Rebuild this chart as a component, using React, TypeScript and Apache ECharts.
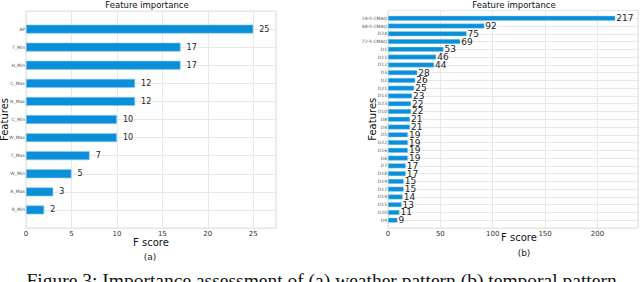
import React, { useEffect, useRef } from "react";
import * as echarts from "echarts";

// (a) weather pattern, listed top to bottom
const weatherFeatures = ["AP", "T_Min", "H_Min", "C_Max", "H_Max", "C_Min", "W_Max", "T_Max", "W_Min", "R_Max", "R_Min"];
const weatherScores = [25, 17, 17, 12, 12, 10, 10, 7, 5, 3, 2];

// (b) temporal pattern, listed top to bottom
const temporalFeatures = [
  "24-h CMAQ", "48-h CMAQ", "D24", "72-h CMAQ", "D1", "D11", "D12", "D3", "D2", "D21",
  "D13", "D23", "D10", "D8", "D4", "D5", "D22", "D16", "D6", "D7",
  "D18", "D19", "D17", "D14", "D15", "D20", "D9",
];
const temporalScores = [
  217, 92, 75, 69, 53, 46, 44, 28, 26, 25,
  23, 22, 22, 21, 21, 19, 19, 19, 19, 17,
  17, 15, 15, 14, 13, 11, 9,
];

const weatherTicks = [0, 5, 10, 15, 20, 25];
const temporalTicks = [0, 50, 100, 150, 200];

const FONT = "DejaVu Sans";
const BAR = "#0b8fd8";
const GRID = "#e8e8e8";

// pad with empty categories so the axis runs from -1 to n like the original
function padCats(names: string[]) {
  return ["", ...names.slice().reverse(), ""];
}
function padVals(vals: number[]) {
  return [null, ...vals.slice().reverse(), null];
}

export default function App() {
  const ref = useRef<HTMLDivElement>(null);
  useEffect(() => {
    if (!ref.current) return;
    const chart = echarts.init(ref.current, undefined, { renderer: "svg" });
    const wMax = Math.max(...weatherScores) * 1.1;
    const tMax = Math.max(...temporalScores) * 1.1;
    const xAxisCommon = (ticks: number[]) => ({
      type: "value" as const,
      min: 0,
      interval: ticks[1] - ticks[0],
      axisLine: { show: false },
      axisTick: { show: false },
      splitLine: { show: true, lineStyle: { color: GRID, width: 1 } },
      axisLabel: {
        fontSize: 7,
        color: "#333",
        fontFamily: FONT,
        margin: 2,
        formatter: (v: number) => (ticks.includes(v) ? String(v) : ""),
      },
      nameLocation: "middle" as const,
      nameMoveOverlap: false,
    });
    const yAxisCommon = {
      type: "category" as const,
      boundaryGap: false,
      axisLine: { show: false },
      axisTick: { show: false },
      splitLine: { show: true, interval: 0, lineStyle: { color: GRID, width: 1 } },
      axisLabel: { fontSize: 4.5, color: "#555", fontFamily: FONT, interval: 0, margin: 1 },
      name: "Features",
      nameLocation: "middle" as const,
      nameRotate: 90,
      nameMoveOverlap: false,
      nameTextStyle: { fontSize: 10, color: "#111", fontFamily: FONT },
    };
    const gridCommon = {
      show: true,
      borderColor: "#e0e0e0",
      borderWidth: 1,
      backgroundColor: "transparent",
      containLabel: false,
      outerBoundsMode: "none",
    };
    chart.setOption({
      animation: false,
      backgroundColor: "#fff",
      grid: [
        { ...gridCommon, left: 26, right: 364, top: 11, bottom: 54 },
        { ...gridCommon, left: 388, right: 2, top: 10.5, bottom: 54 },
      ],
      xAxis: [
        {
          ...xAxisCommon(weatherTicks), gridIndex: 0, max: wMax, name: "F score", nameGap: 9.5,
          nameTextStyle: { fontSize: 10, color: "#111", fontFamily: FONT },
        },
        {
          ...xAxisCommon(temporalTicks), gridIndex: 1, max: tMax, name: "F score", nameGap: 4,
          nameTextStyle: { fontSize: 10, color: "#111", fontFamily: FONT, padding: [0, 0, 0, 12] },
        },
      ],
      yAxis: [
        { ...yAxisCommon, gridIndex: 0, data: padCats(weatherFeatures), nameGap: 16.5 },
        { ...yAxisCommon, gridIndex: 1, data: padCats(temporalFeatures), nameGap: 11 },
      ],
      series: [
        {
          type: "bar",
          xAxisIndex: 0,
          yAxisIndex: 0,
          data: padVals(weatherScores),
          barWidth: 9,
          itemStyle: { color: BAR, borderColor: "#8fcdf0", borderWidth: 0.6 },
          label: { show: true, position: "right", distance: 6, fontSize: 8, color: "#222", fontFamily: FONT },
        },
        {
          type: "bar",
          xAxisIndex: 1,
          yAxisIndex: 1,
          data: padVals(temporalScores),
          barWidth: 5,
          itemStyle: { color: BAR, borderColor: "#8fcdf0", borderWidth: 0.5 },
          label: { show: true, position: "right", distance: 1, fontSize: 9, color: "#222", fontFamily: FONT },
        },
      ],
      graphic: [
        { type: "text", x: 147, y: 5, style: { text: "Feature importance", fontSize: 8.5, fontFamily: FONT, fill: "#111", align: "center", verticalAlign: "middle" } },
        { type: "text", x: 514, y: 5, style: { text: "Feature importance", fontSize: 8.5, fontFamily: FONT, fill: "#111", align: "center", verticalAlign: "middle" } },
        { type: "text", x: 150, y: 257, style: { text: "(a)", fontSize: 9, fontFamily: FONT, fill: "#222", align: "center", verticalAlign: "middle" } },
        { type: "text", x: 524, y: 253, style: { text: "(b)", fontSize: 9, fontFamily: FONT, fill: "#222", align: "center", verticalAlign: "middle" } },
        {
          type: "text",
          x: 324,
          y: 270,
          style: {
            text: "Figure 3: Importance assessment of (a) weather pattern (b) temporal pattern.",
            fontSize: 19.5,
            fontFamily: "Liberation Serif",
            fill: "#111",
            align: "center",
            verticalAlign: "top",
          },
        },
      ],
    });
    return () => chart.dispose();
  }, []);
  return <div ref={ref} style={{ width: 640, height: 282, position: "absolute", left: 0, top: 0 }} />;
}
